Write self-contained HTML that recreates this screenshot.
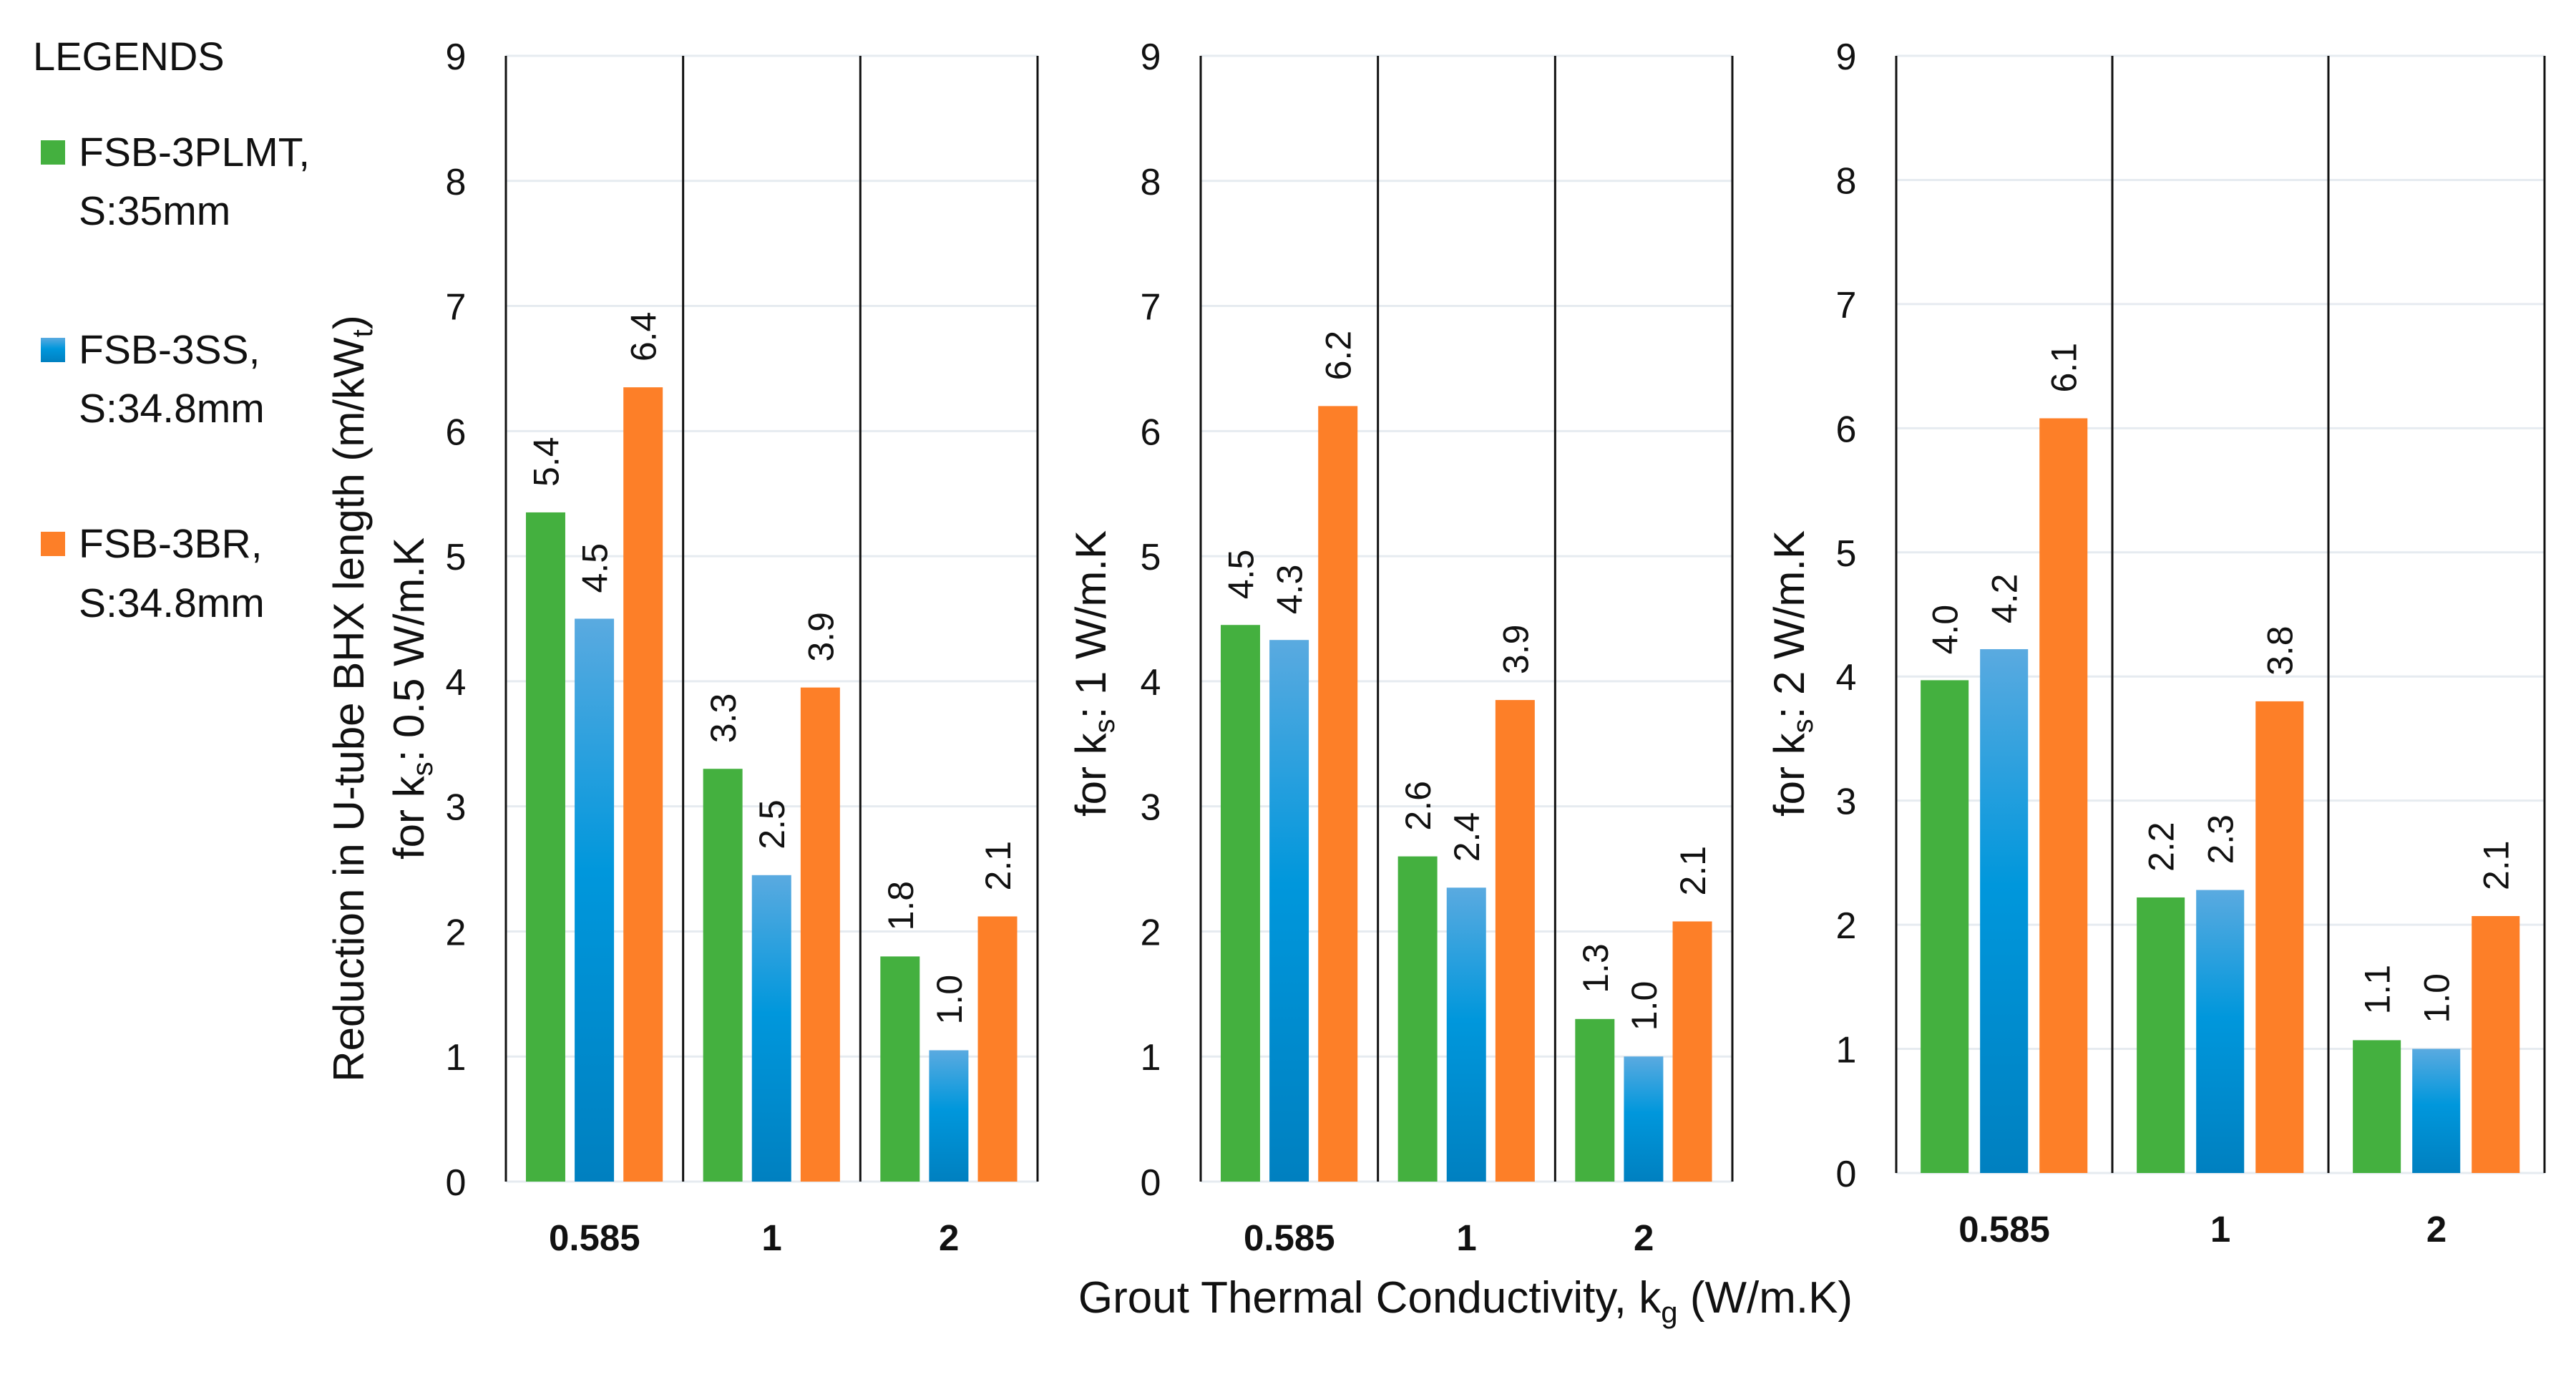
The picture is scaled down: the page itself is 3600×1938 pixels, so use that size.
<!DOCTYPE html>
<html><head><meta charset="utf-8">
<style>
html,body{margin:0;padding:0;background:#fff;}
svg{display:block;font-family:"Liberation Sans",sans-serif;}
</style></head>
<body>
<svg id="chart" width="3600" height="1938" viewBox="0 0 3600 1938">
<defs>
<linearGradient id="blueGrad" x1="0" y1="0" x2="0" y2="1">
<stop offset="0" stop-color="#5aaae0"/><stop offset="0.45" stop-color="#0097dc"/><stop offset="1" stop-color="#0080c0"/>
</linearGradient>
</defs>
<g>
<text x="46" y="98" font-size="56" fill="#111">LEGENDS</text>
<rect x="57" y="196" width="34" height="34" fill="#44b03f"/>
<text x="110" y="232" font-size="57" fill="#111">FSB-3PLMT,</text>
<text x="110" y="314" font-size="57" fill="#111">S:35mm</text>
<rect x="57" y="472" width="34" height="34" fill="url(#blueGrad)"/>
<text x="110" y="508" font-size="57" fill="#111">FSB-3SS,</text>
<text x="110" y="590" font-size="57" fill="#111">S:34.8mm</text>
<rect x="57" y="743" width="34" height="34" fill="#fd7f28"/>
<text x="110" y="779" font-size="57" fill="#111">FSB-3BR,</text>
<text x="110" y="862" font-size="57" fill="#111">S:34.8mm</text>
</g>
<text x="508" y="976" font-size="60" fill="#111" text-anchor="middle" transform="rotate(-90 508 976)">Reduction in U-tube BHX length (m/kW<tspan font-size="40" dy="12">t</tspan><tspan dy="-12">)</tspan></text>
<text x="2048" y="1834" font-size="62" fill="#111" text-anchor="middle">Grout Thermal Conductivity,  k<tspan font-size="42" dy="14">g</tspan><tspan dy="-14"> (W/m.K)</tspan></text>
</svg>
<script>
const categories = ["0.585", "1", "2"];
const seriesNames = ["FSB-3PLMT", "FSB-3SS", "FSB-3BR"];
const yTicks = [0,1,2,3,4,5,6,7,8,9];
const panel1Green = [5.35, 3.3, 1.8];
const panel1Blue = [4.5, 2.45, 1.05];
const panel1Orange = [6.35, 3.95, 2.12];
const panel1Labels = [["5.4","3.3","1.8"],["4.5","2.5","1.0"],["6.4","3.9","2.1"]];
const panel2Green = [4.45, 2.6, 1.3];
const panel2Blue = [4.33, 2.35, 1.0];
const panel2Orange = [6.2, 3.85, 2.08];
const panel2Labels = [["4.5","2.6","1.3"],["4.3","2.4","1.0"],["6.2","3.9","2.1"]];
const panel3Green = [3.97, 2.22, 1.07];
const panel3Blue = [4.22, 2.28, 1.0];
const panel3Orange = [6.08, 3.8, 2.07];
const panel3Labels = [["4.0","2.2","1.1"],["4.2","2.3","1.0"],["6.1","3.8","2.1"]];

const svg = document.getElementById('chart');
const NS = 'http://www.w3.org/2000/svg';
function mk(tag, attrs){const e=document.createElementNS(NS,tag);for(const k in attrs)e.setAttribute(k,attrs[k]);return e;}
const fills = ["#44b03f","url(#blueGrad)","#fd7f28"];

const panels = [
 {x0:707, x1:1450, y0:1651, yTop:78, series:[panel1Green,panel1Blue,panel1Orange], labels:panel1Labels, title:"0.5", tx:592},
 {x0:1678, x1:2421, y0:1651, yTop:78, series:[panel2Green,panel2Blue,panel2Orange], labels:panel2Labels, title:"1", tx:1545},
 {x0:2650, x1:3556, y0:1639, yTop:78, series:[panel3Green,panel3Blue,panel3Orange], labels:panel3Labels, title:"2", tx:2521}
];

panels.forEach((p, pi) => {
  const g = mk('g', {});
  
  
  svg.appendChild(g);
  const yScale = v => p.y0 - (v / 9) * (p.y0 - p.yTop);
  const gw = (p.x1 - p.x0) / categories.length;
  yTicks.forEach(t => {
    const y = yScale(t);
    const line = mk('line', {x1:p.x0, x2:p.x1, y1:y, y2:y, stroke:'#e6ebf0', 'stroke-width':3});
    
    
    g.appendChild(line);
    const tl = mk('text', {x:p.x0 - 70, y:y + 19, 'font-size':52, fill:'#111', 'text-anchor':'middle'});
    tl.textContent = t;
    
    
    g.appendChild(tl);
  });
  for (let i = 0; i <= categories.length; i++) {
    const x = p.x0 + i * gw;
    const l = mk('line', {x1:x, x2:x, y1:p.yTop, y2:p.y0, stroke:'#111', 'stroke-width':3});
    
    
    g.appendChild(l);
  }
  categories.forEach((c, ci) => {
    const gx = p.x0 + ci * gw;
    const bw = gw * 0.222, off = gw * 0.113, gap = gw * 0.053;
    p.series.forEach((s, si) => {
      const v = s[ci];
      const bx = gx + off + si * (bw + gap);
      const by = yScale(v);
      const r = mk('rect', {x:bx, y:by, width:bw, height:p.y0 - by, fill:fills[si]});
      
      
      g.appendChild(r);
      const lx = bx + bw / 2 + 18, ly = by - 36;
      const lt = mk('text', {x:lx, y:ly, 'font-size':50, fill:'#111', transform:'rotate(-90 ' + lx + ' ' + ly + ')'});
      lt.textContent = p.labels[si][ci];
      
      
      g.appendChild(lt);
    });
    const cl = mk('text', {x:gx + gw / 2, y:p.y0 + 96, 'font-size':51, 'font-weight':'bold', fill:'#111', 'text-anchor':'middle'});
    cl.textContent = c;
    
    
    g.appendChild(cl);
  });
  const cy = pi === 0 ? 976 : 941;
  const tt = mk('text', {x:p.tx, y:cy, 'font-size':60, fill:'#111', 'text-anchor':'middle', transform:'rotate(-90 ' + p.tx + ' ' + cy + ')'});
  tt.innerHTML = 'for k<tspan font-size="40" dy="12">s</tspan><tspan dy="-12">: ' + p.title + ' W/m.K</tspan>';
  
  
  g.appendChild(tt);
});
</script>
</body></html>
